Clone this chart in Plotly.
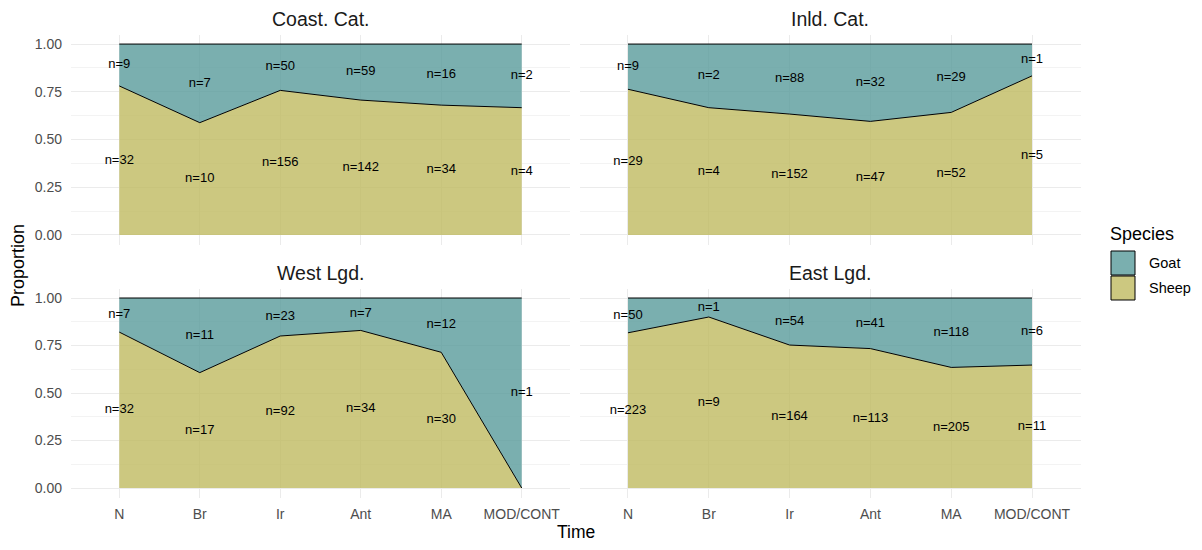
import numpy as np
import plotly.graph_objects as go

periods = ["N", "Br", "Ir", "Ant", "MA", "MOD/CONT"]
regions = ["Coast. Cat.", "Inld. Cat.", "West Lgd.", "East Lgd."]

sheep_coast = [32, 10, 156, 142, 34, 4]
goat_coast = [9, 7, 50, 59, 16, 2]
sheep_inland = [29, 4, 152, 47, 52, 5]
goat_inland = [9, 2, 88, 32, 29, 1]
sheep_west = [32, 17, 92, 34, 30, 0]
goat_west = [7, 11, 23, 7, 12, 1]
sheep_east = [223, 9, 164, 113, 205, 11]
goat_east = [50, 1, 54, 41, 118, 6]

sheep_counts = [sheep_coast, sheep_inland, sheep_west, sheep_east]
goat_counts = [goat_coast, goat_inland, goat_west, goat_east]

# page has an 8px body margin; figure sized to fit inside window
OFF = 8
W, H = 1202 - 2 * OFF, 550 - 2 * OFF
FONT = "Liberation Sans, Arial, sans-serif"
SHEEP_FILL = "rgba(190,184,92,0.78)"
GOAT_FILL = "rgba(84,152,153,0.78)"


def px(x):
    return (x - OFF) / W


def py(y):
    return 1 - (y - OFF) / H


# panel pixel boxes in screenshot coords (left, right, top, bottom)
xboxes = [(71, 570), (579.5, 1080.5)]
yboxes = [(34.5, 244.5), (288.5, 497.5)]

fig = go.Figure()
layout = {}
for i, reg in enumerate(regions):
    r, c = divmod(i, 2)
    ax = "" if i == 0 else str(i + 1)
    xa, ya = "x" + ax, "y" + ax
    sheep = np.array(sheep_counts[i], dtype=float)
    goat = np.array(goat_counts[i], dtype=float)
    tot = sheep + goat
    sp = sheep / tot
    gp = goat / tot
    fig.add_trace(go.Scatter(x=periods, y=sheep, stackgroup="s%d" % i, groupnorm="fraction",
                             fillcolor=SHEEP_FILL, line=dict(color="black", width=1),
                             mode="lines", name="Sheep", showlegend=False, xaxis=xa, yaxis=ya))
    fig.add_trace(go.Scatter(x=periods, y=goat, stackgroup="s%d" % i,
                             fillcolor=GOAT_FILL, line=dict(color="black", width=1),
                             mode="lines", name="Goat", showlegend=False, xaxis=xa, yaxis=ya))
    lx, ly, lt = [], [], []
    for k, p in enumerate(periods):
        if sheep[k] > 0:
            lx.append(p); ly.append(sp[k] / 2); lt.append("n=%d" % sheep[k])
        if goat[k] > 0:
            lx.append(p); ly.append(sp[k] + gp[k] / 2); lt.append("n=%d" % goat[k])
    fig.add_trace(go.Scatter(x=lx, y=ly, text=lt, mode="text", showlegend=False,
                             textfont=dict(family=FONT, size=13, color="black"),
                             hoverinfo="skip", xaxis=xa, yaxis=ya))
    x0, x1 = xboxes[c]
    y0, y1 = yboxes[r]
    layout["xaxis" + ax] = dict(domain=[px(x0), px(x1)], anchor=ya, type="category",
                                categoryorder="array", categoryarray=periods,
                                range=[-0.6, 5.6], showgrid=True, gridcolor="#EBEBEB", gridwidth=1,
                                showticklabels=(r == 1), zeroline=False, showline=False,
                                ticks="", ticklabelstandoff=6,
                                tickfont=dict(family=FONT, size=14, color="#4D4D4D"))
    layout["yaxis" + ax] = dict(domain=[py(y1), py(y0)], anchor=xa,
                                range=[-0.05, 1.05], tickvals=[0, 0.25, 0.5, 0.75, 1.0],
                                ticktext=["0.00", "0.25", "0.50", "0.75", "1.00"],
                                showgrid=True, gridcolor="#EBEBEB", gridwidth=1,
                                minor=dict(tickvals=[0.125, 0.375, 0.625, 0.875], showgrid=True,
                                           gridcolor="#F3F3F3", gridwidth=0.6),
                                showticklabels=(c == 0), zeroline=False, showline=False,
                                ticks="", ticklabelstandoff=8,
                                tickfont=dict(family=FONT, size=14, color="#4D4D4D"))

annotations = []
for i, reg in enumerate(regions):
    r, c = divmod(i, 2)
    x0, x1 = xboxes[c]
    y0, _ = yboxes[r]
    annotations.append(dict(text=reg, x=px((x0 + x1) / 2), y=py(y0 - 15), xref="paper", yref="paper",
                            showarrow=False, xanchor="center", yanchor="middle",
                            font=dict(family=FONT, size=19.5, color="#1A1A1A")))
annotations.append(dict(text="Proportion", x=px(18), y=py(266), xref="paper", yref="paper",
                        showarrow=False, textangle=-90, xanchor="center", yanchor="middle",
                        font=dict(family=FONT, size=18, color="black")))
annotations.append(dict(text="Time", x=px(576), y=py(532), xref="paper", yref="paper",
                        showarrow=False, xanchor="center", yanchor="middle",
                        font=dict(family=FONT, size=17.5, color="black")))
annotations.append(dict(text="Species", x=px(1108), y=py(234), xref="paper", yref="paper",
                        showarrow=False, xanchor="left", yanchor="middle",
                        font=dict(family=FONT, size=18, color="black")))
shapes = []
for j, (lab, col) in enumerate([("Goat", GOAT_FILL), ("Sheep", SHEEP_FILL)]):
    top = 251 + j * 25
    shapes.append(dict(type="rect", xref="paper", yref="paper",
                       x0=px(1111), x1=px(1135), y0=py(top + 24), y1=py(top),
                       fillcolor=col, line=dict(color="black", width=1)))
    annotations.append(dict(text=lab, x=px(1147), y=py(top + 12), xref="paper", yref="paper",
                            showarrow=False, xanchor="left", yanchor="middle",
                            font=dict(family=FONT, size=14.5, color="black")))

fig.update_layout(width=W, height=H, margin=dict(l=0, r=0, t=0, b=0),
                  paper_bgcolor="white", plot_bgcolor="white", showlegend=False,
                  annotations=annotations, shapes=shapes, **layout)
fig.write_html("out.html")
